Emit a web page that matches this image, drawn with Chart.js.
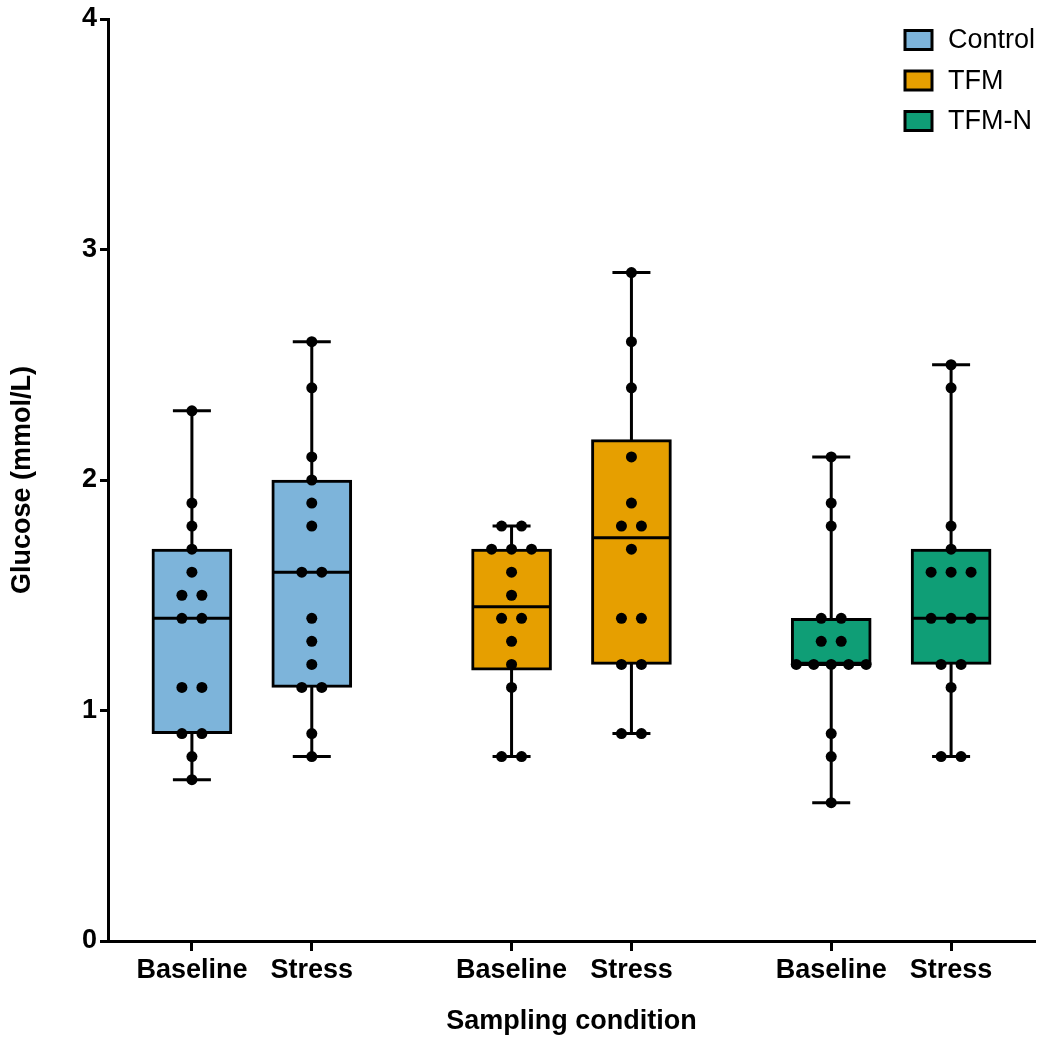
<!DOCTYPE html>
<html>
<head>
<meta charset="utf-8">
<script src="https://cdn.jsdelivr.net/npm/chart.js@4.4.0/dist/chart.umd.min.js"></script>
<style>
  html, body { margin: 0; padding: 0; background: #fff; }
  #wrap { width: 1042px; height: 1038px; position: relative; }
</style>
</head>
<body>
<div id="wrap"><canvas id="grafico"></canvas></div>
<script>
const grupos = ["Control", "TFM", "TFM-N"];
const condicoes = ["Baseline", "Stress"];
const coresGrupos = ["#7DB4DA", "#E69F00", "#0F9E76"];
const yTicks = [0, 1, 2, 3, 4];

// glicose de cada animal (mmol/L)
const controlBaseline = [2.3, 1.9, 1.8, 1.7, 1.6, 1.5, 1.5, 1.4, 1.4, 1.1, 1.1, 0.9, 0.9, 0.8, 0.7];
const controlStress   = [2.6, 2.4, 2.1, 2.0, 1.9, 1.8, 1.6, 1.6, 1.4, 1.3, 1.2, 1.1, 1.1, 0.9, 0.8];
const tfmBaseline     = [1.8, 1.8, 1.7, 1.7, 1.7, 1.6, 1.5, 1.4, 1.4, 1.3, 1.2, 1.1, 0.8, 0.8];
const tfmStress       = [2.9, 2.6, 2.4, 2.1, 1.9, 1.8, 1.8, 1.7, 1.4, 1.4, 1.2, 1.2, 0.9, 0.9];
const tfmnBaseline    = [2.1, 1.9, 1.8, 1.4, 1.4, 1.3, 1.3, 1.2, 1.2, 1.2, 1.2, 1.2, 0.9, 0.8, 0.6];
const tfmnStress      = [2.5, 2.4, 1.8, 1.7, 1.6, 1.6, 1.6, 1.4, 1.4, 1.4, 1.2, 1.2, 1.1, 0.8, 0.8];

const valores = [
    [controlBaseline, controlStress],
    [tfmBaseline, tfmStress],
    [tfmnBaseline, tfmnStress]
];

// layout do eixo x (unidades da escala linear)
const PASSO_GRUPO = 8;
const PASSO_COND = 3;
const PX_POR_UNIDADE = 40;
const FONTE = "'Liberation Sans', Arial, sans-serif";

function posicao(g, c) { return g * PASSO_GRUPO + c * PASSO_COND; }

// quartis no estilo GraphPad: posição p*(n+1)
function quantil(arr, p) {
    const s = [...arr].sort((a, b) => a - b);
    const n = s.length;
    let h = p * (n + 1);
    if (h <= 1) return s[0];
    if (h >= n) return s[n - 1];
    const lo = Math.floor(h);
    const f = h - lo;
    return s[lo - 1] + f * (s[lo] - s[lo - 1]);
}

const caixas = [];
const bigodes = [];
const medianas = [];
const pontos = [];
const posTicks = [];
const nomeTick = {};

valores.forEach((par, g) => {
    const dadosBox = [];
    par.forEach((vals, c) => {
        const x = posicao(g, c);
        posTicks.push(x);
        nomeTick[x] = condicoes[c];

        dadosBox.push({ x, y: [quantil(vals, 0.25), quantil(vals, 0.75)] });
        bigodes.push({ x, y: Math.min(...vals) }, { x, y: Math.max(...vals) }, { x, y: null });
        medianas.push({ x, y: quantil(vals, 0.5) });

        // espalha pontos com o mesmo valor (tipo beeswarm)
        const contagem = {};
        vals.forEach(v => { contagem[v] = (contagem[v] || 0) + 1; });
        Object.keys(contagem).forEach(k => {
            const qtd = contagem[k];
            const gap = qtd > 1 ? Math.min(20, 70 / (qtd - 1)) : 0;
            for (let i = 0; i < qtd; i++) {
                const desloc = (i - (qtd - 1) / 2) * gap / PX_POR_UNIDADE;
                pontos.push({ x: x + desloc, y: Number(k) });
            }
        });
    });
    caixas.push({
        type: "bar",
        label: grupos[g],
        data: dadosBox,
        backgroundColor: coresGrupos[g],
        borderColor: "#000",
        borderWidth: 3,
        borderSkipped: false,
        barThickness: 80,
        grouped: false,
        order: 2
    });
});

// legenda desenhada à mão, canto superior direito
const legendaCaixas = {
    id: "legendaCaixas",
    afterDraw(chart) {
        const ctx = chart.ctx;
        ctx.save();
        ctx.font = "27px " + FONTE;
        ctx.textBaseline = "middle";
        ctx.textAlign = "left";
        grupos.forEach((nome, i) => {
            const y = 40 + i * 40.5;
            ctx.fillStyle = coresGrupos[i];
            ctx.fillRect(905, y - 9.5, 27, 19);
            ctx.lineWidth = 3;
            ctx.strokeStyle = "#000";
            ctx.strokeRect(905, y - 9.5, 27, 19);
            ctx.fillStyle = "#000";
            ctx.fillText(nome, 948, y + 1);
        });
        ctx.restore();
    }
};

new Chart(document.getElementById("grafico"), {
    type: "scatter",
    data: {
        datasets: [
            ...caixas,
            {
                type: "line",
                label: "whiskers",
                data: bigodes,
                borderColor: "#000",
                borderWidth: 3,
                spanGaps: false,
                pointStyle: "line",
                pointRadius: 19,
                pointBorderWidth: 3,
                pointBorderColor: "#000",
                order: 3
            },
            {
                type: "scatter",
                label: "median",
                data: medianas,
                pointStyle: "line",
                pointRadius: 39,
                pointBorderWidth: 3,
                pointBorderColor: "#000",
                order: 1
            },
            {
                type: "scatter",
                label: "points",
                data: pontos,
                pointRadius: 5.5,
                pointBackgroundColor: "#000",
                pointBorderWidth: 0,
                order: 0
            }
        ]
    },
    options: {
        responsive: true,
        maintainAspectRatio: false,
        animation: false,
        layout: { autoPadding: false, padding: { top: 19, right: 7, left: 0, bottom: 0 } },
        plugins: {
            legend: { display: false },
            tooltip: { enabled: false }
        },
        scales: {
            x: {
                type: "linear",
                min: -2.1,
                max: 21.1,
                offset: false,
                afterFit: s => { s.height = 97; s.paddingLeft = 0; s.paddingRight = 0; },
                afterBuildTicks: s => { s.ticks = posTicks.map(v => ({ value: v })); },
                grid: { drawOnChartArea: false, offset: false, tickLength: 10, tickWidth: 3, tickColor: "#000" },
                border: { display: true, width: 3, color: "#000" },
                ticks: {
                    autoSkip: false,
                    maxRotation: 0,
                    padding: 3,
                    color: "#000",
                    font: { family: FONTE, size: 27, weight: "bold" },
                    callback: v => nomeTick[v] || ""
                },
                title: {
                    display: true,
                    text: "Sampling condition",
                    color: "#000",
                    padding: { top: 0, bottom: 0 },
                    font: { family: FONTE, size: 27, weight: "bold" }
                }
            },
            y: {
                min: 0,
                max: 4,
                afterFit: s => { s.width = 108; s.paddingTop = 0; s.paddingBottom = 0; },
                afterBuildTicks: s => { s.ticks = yTicks.map(v => ({ value: v })); },
                grid: { drawOnChartArea: false, tickLength: 8, tickWidth: 3, tickColor: "#000" },
                border: { display: true, width: 3, color: "#000" },
                ticks: {
                    padding: 3,
                    color: "#000",
                    font: { family: FONTE, size: 27, weight: "bold" }
                },
                title: {
                    display: true,
                    text: "Glucose (mmol/L)",
                    color: "#000",
                    padding: { top: 6, bottom: 0 },
                    font: { family: FONTE, size: 27, weight: "bold" }
                }
            }
        }
    },
    plugins: [legendaCaixas]
});
</script>
</body>
</html>
